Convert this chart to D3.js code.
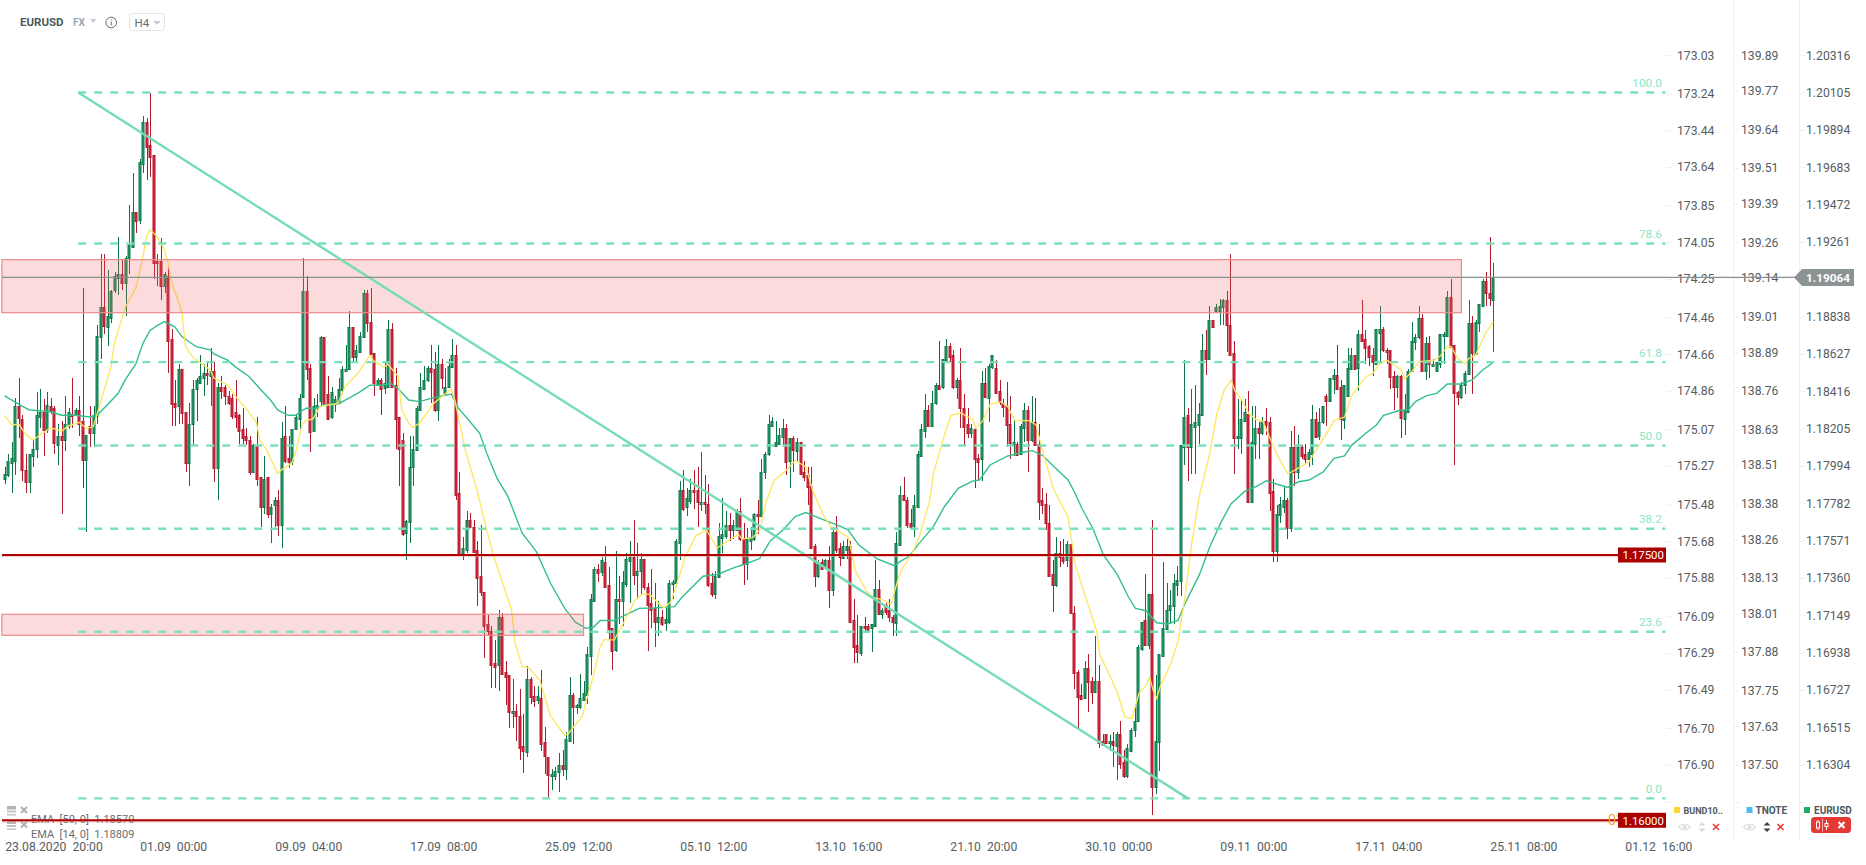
<!DOCTYPE html>
<html><head><meta charset="utf-8">
<script src="https://cdnjs.cloudflare.com/ajax/libs/d3/7.8.5/d3.min.js"></script>
<style>html,body{margin:0;padding:0;background:#fff;overflow:hidden}svg{display:block;font-family:Roboto,sans-serif}</style>
</head><body><svg id="c" width="1866" height="865"></svg>
<script>
// All candle values are in pips above 1.16000
const candleOpen=[
193,195,202,203,234,227,198,191,206,210,228,231,221,234,233,212,217,215,223,230,
229,232,226,204,223,219,229,273,290,279,284,300,307,309,304,317,324,344,339,371,
395,382,376,316,316,302,308,272,236,234,255,231,202,224,244,247,250,253,251,254,
199,245,245,240,239,231,229,221,217,215,197,212,194,177,194,173,178,181,167,217,
205,203,221,227,239,299,256,220,234,237,273,241,228,235,236,243,254,255,279,262,
265,273,298,282,264,247,249,244,245,278,246,228,215,162,169,200,209,232,244,249,
256,255,232,258,241,245,256,263,185,150,153,170,166,153,138,129,111,107,89,88,
115,84,82,61,62,59,42,39,80,70,68,69,44,36,25,25,27,31,29,45,
71,64,64,68,71,93,124,142,140,146,133,109,96,125,124,134,147,149,139,141,
148,132,123,120,112,115,112,112,134,134,157,187,177,181,187,187,179,180,179,134,
128,138,160,161,167,164,164,175,159,145,158,159,173,172,197,207,223,212,213,217,
222,203,216,209,214,197,195,189,155,138,146,143,147,130,163,154,148,153,155,113,
99,95,110,110,109,110,131,117,122,119,115,112,156,184,181,168,166,177,206,220,
232,223,236,246,245,260,268,263,245,249,233,224,219,221,205,204,247,239,256,256,
243,236,234,224,213,213,207,222,232,215,225,213,181,179,168,139,133,151,149,147,
156,117,84,71,69,86,79,73,79,45,49,44,45,42,49,33,25,39,51,56,
97,113,99,128,19,44,93,108,119,121,133,135,211,229,211,222,224,229,266,261,
283,288,288,290,294,280,264,216,216,226,230,180,213,222,219,226,225,186,152,173,
177,181,165,211,197,211,207,204,207,227,217,225,240,237,250,252,245,226,240,255,
263,256,275,272,268,263,258,276,278,266,266,251,245,251,227,231,254,270,273,284,
254,270,257,254,258,274,274,296,269,242,239,246,252,281,264,281,291,305,298,294];
const candleHigh=[
200,207,214,239,250,229,207,207,215,242,244,238,242,239,234,224,226,240,233,250,
233,240,301,218,234,234,280,320,320,311,300,310,330,317,319,348,366,344,374,398,
397,411,376,320,329,310,314,278,249,258,255,231,236,249,250,263,258,259,267,259,
247,251,246,243,241,249,230,233,222,217,213,228,194,206,194,179,183,187,225,234,
217,221,230,241,318,308,258,239,241,274,273,251,245,240,250,257,269,288,279,269,
276,300,300,301,264,250,250,259,283,281,256,228,219,170,217,217,234,253,257,257,
269,265,269,261,256,261,272,269,197,160,175,174,170,158,167,129,116,110,102,119,
117,90,82,80,66,74,60,87,81,76,76,85,53,36,29,30,38,40,50,81,
72,66,83,79,98,128,143,145,149,155,143,109,152,138,141,151,158,170,157,151,
148,134,142,134,124,119,121,136,136,159,192,198,188,193,198,200,208,195,190,140,
141,168,182,175,174,170,176,182,168,165,166,174,181,204,208,229,228,226,222,227,
224,216,217,216,214,203,200,200,156,147,148,148,155,166,172,157,158,159,158,125,
116,110,115,111,111,147,136,120,123,125,116,163,189,194,183,176,184,209,224,241,
235,243,247,271,261,272,270,266,250,267,241,233,224,222,207,254,256,258,263,260,
249,238,248,240,227,214,224,236,234,240,239,224,188,185,178,147,160,158,159,158,
156,121,85,77,90,94,81,104,88,49,49,48,50,50,56,40,43,52,66,99,
112,139,128,170,82,94,146,134,130,139,144,212,260,233,244,246,236,275,277,291,
283,292,295,295,299,320,271,238,238,238,243,234,234,225,228,233,228,193,178,183,
189,182,220,223,218,212,213,210,235,231,233,234,241,250,255,269,249,246,267,267,
263,277,294,277,269,267,278,291,279,267,266,254,252,252,241,255,282,275,291,286,
273,274,261,259,275,276,299,306,269,243,248,254,294,285,283,292,306,310,330,315];
const candleLow=[
190,194,185,195,216,192,185,185,200,205,222,206,219,230,207,201,173,209,221,222,
229,217,188,163,211,211,224,261,275,268,281,298,297,300,285,309,324,332,337,366,
362,364,306,302,294,298,253,223,223,224,224,197,189,212,226,247,240,246,234,191,
181,238,235,235,227,222,213,213,212,195,197,189,166,173,171,157,166,161,154,202,
199,201,221,221,239,249,208,220,228,235,235,227,227,231,236,241,254,255,259,259,
265,273,276,263,240,247,229,241,245,245,210,189,161,147,157,189,209,232,244,248,
236,231,226,244,240,245,256,181,150,147,151,165,151,121,127,92,104,75,75,73,
83,65,52,52,45,34,27,36,66,64,66,39,26,13,17,23,16,25,23,45,
43,60,63,68,66,82,124,135,138,132,102,85,95,111,110,132,123,133,125,128,
130,96,109,98,104,110,107,111,125,132,147,175,172,179,176,166,175,173,132,126,
125,138,151,159,158,159,164,158,133,136,153,158,162,172,193,206,223,212,212,212,
195,188,197,203,195,192,178,154,132,137,142,142,120,127,151,144,148,148,112,89,
89,93,107,107,95,110,116,114,116,112,104,104,155,181,165,165,160,177,206,216,
223,223,235,244,244,260,259,244,238,222,212,216,216,188,192,192,239,225,255,242,
235,228,211,204,206,207,207,214,197,214,212,170,173,164,138,118,132,143,145,143,
117,74,51,69,69,61,66,72,41,42,44,39,30,23,29,24,24,39,47,56,
96,99,97,3,15,28,93,108,111,111,127,127,201,192,196,196,213,229,252,260,
279,287,280,280,265,263,196,210,207,225,180,180,204,204,218,218,175,146,146,168,
174,159,163,189,193,204,202,200,201,216,215,224,223,237,241,244,215,221,240,255,
255,243,271,258,257,251,258,258,265,258,244,232,239,216,218,231,254,266,272,254,
249,250,257,254,256,258,274,268,201,235,238,241,252,241,264,276,291,291,291,265];
const candleClose=[
196,203,205,234,227,198,191,207,210,229,231,221,235,232,213,217,215,224,231,229,
232,224,204,218,219,229,274,290,279,285,299,308,309,304,318,325,344,339,372,395,
381,375,315,315,302,309,271,235,234,255,230,202,224,244,249,251,253,252,254,199,
245,243,240,236,229,228,220,216,215,197,212,193,177,193,173,177,181,167,216,203,
203,221,228,239,299,255,220,234,235,273,235,227,242,238,244,255,255,279,262,266,
274,298,281,264,247,249,244,247,278,245,227,210,162,169,200,210,233,245,249,256,
254,232,258,250,245,257,263,184,151,154,170,166,152,137,129,110,107,88,87,115,
83,81,61,62,59,41,39,80,70,67,70,43,36,26,26,28,31,29,46,71,
64,65,69,72,94,125,142,140,147,132,108,96,125,124,135,148,149,139,141,148,
132,122,119,112,115,111,114,134,135,158,187,176,182,187,186,180,180,179,133,128,
138,161,162,167,164,167,175,159,145,159,160,173,172,197,207,224,226,214,218,222,
203,216,209,214,196,194,188,154,138,145,142,147,130,163,153,149,155,155,112,98,
95,110,109,108,111,131,117,119,118,115,112,157,184,181,167,166,178,207,221,232,
223,236,246,244,261,268,262,245,249,233,222,219,222,204,203,247,239,257,263,242,
237,234,223,213,214,207,223,232,215,225,212,180,178,168,138,133,151,149,147,156,
117,83,70,69,86,78,73,79,44,43,44,45,43,49,32,25,41,51,56,98,
112,99,128,19,45,94,109,119,122,134,136,212,228,211,224,225,230,266,261,283,
279,290,291,294,280,263,216,217,227,231,180,214,222,219,226,224,185,152,173,179,
181,165,211,197,211,206,204,208,227,217,225,234,237,250,252,244,227,246,256,263,
255,275,271,267,262,259,278,278,266,265,251,245,251,227,232,254,271,273,284,254,
270,258,258,259,275,275,296,268,242,239,246,253,281,264,282,292,305,298,295,307];

// EMA 14, sampled along the curve: sample position and pips above 1.16000
const ema14At=[0,2,4,6,8,10,13,16,18,21,23,25,27,30,31,34,37,39,40,41,43,45,46,47,50,51,53,55,58,59,63,65,68,71,72,74,77,78,81,82,84,85,87,89,94,96,100,103,104,107,108,111,112,114,115,117,121,126,127,130,133,136,138,140,143,144,146,148,151,154,158,159,163,164,166,168,169,172,175,178,180,182,184,186,188,190,192,195,198,201,203,207,208,211,213,215,217,220,221,223,226,228,231,233,235,238,239,240,243,245,248,250,252,253,256,258,261,262,265,267,270,271,273,274,276,278,281,283,285,289,291,293,296,300,302,304,308,309,312,314,316,318,320,322,323,324,325,326,329,331,333,335,337,340,342,344,346,347,349,351,353,355,356,359,362,364,368,370,373,375,378,380,384,386,388,390,392,394,395,397,399,403,405,407,408,410,412,413,415,418,420];
const ema14Pips=[229,223.5,224,218,215,218,222,220,223,225,221.6,222.5,236,256.5,270,290,301,318.7,330,334,330,323,316,305,287,268,262,259,254.6,250,246,240,233,225,215,209,196,198,202,207.5,224.4,226,227,234,235.7,245,253.7,263,260,256,258,251,232,224.4,222,224.4,235.7,244,237.6,209,188.6,164,149,137,119,100,87,86,79,59,48,49,59,67,81,98,102,102,113,125,128,127.7,123.6,120,123.6,136,149,161,164,154,156.6,161.7,159,159.8,164,181,192,197,199,203.4,200,186,172.6,166,163.8,160,151,141,130,126,124.5,122,136,141.5,151,160,181,196,217,229,230.4,228.6,227,221.6,226,235,236.7,233.8,226,226,223.5,207.5,186.7,171.6,145,132,107.5,93.4,81,71.7,58.5,57.6,71.7,76.4,80.8,73.6,69,75.5,88.7,101,126.4,158,183,207.5,230,243,249,243,237.6,230,226.7,225.4,220.7,206.5,195.8,198,202.7,209.3,218.8,226,228,240,250.8,252.7,258.4,260,257.4,254.6,249.5,253.7,259.3,260,262.5,267.8,267.8,261,258,261,263,276.3,282];

// EMA 50, same form
const ema50At=[0,2,5,7,10,13,16,20,24,26,29,32,34,37,39,41,43,45,48,50,52,54,58,59,63,65,69,72,75,77,80,82,85,88,90,94,97,100,103,106,109,111,114,117,121,126,128,131,134,136,139,142,144,146,150,154,158,161,164,166,168,172,175,179,183,189,191,197,201,206,209,213,216,220,223,226,230,236,238,241,246,251,253,255,258,262,265,269,273,275,278,283,288,290,293,296,300,302,304,307,310,314,317,319,322,325,328,331,333,337,340,343,346,350,353,356,359,362,365,368,372,375,378,380,384,387,389,394,396,398,401,404,407,411,414,417,420];
const ema50Pips=[240,237.6,234,232,231.6,231,229,229,228,229,235,241.4,249,258,269.7,277,279.7,282,279,273.5,270.6,267.8,266,263.7,260,256.5,250.8,244,237.6,232,229,229,233,233,235,235.4,238.6,242,246,246,247,244,237.6,236.7,239,241,233,226,218.8,207.5,193,183,172.6,162.3,151.9,134,119.8,112,108.5,109,113,113,116,119.8,120,120.8,126,138,139,143,144.9,148,158,165,171.7,174,170.7,166,164,155.6,148,144,146.8,149,156.6,166,177,187.7,191.8,192.4,200.9,206,208.4,209,206,200,192.4,184.8,176,165,150,138.6,126.4,119.8,118.5,111.7,111,113,122.6,138.6,154.7,167.9,179,186.2,188.6,192,190,188.2,191.4,192.4,197,204.6,206,212,218.8,223.5,229,232,232,236.7,240,241.4,246.7,246.7,249,254.6,259];

const fibHigh=1.20115, fibLow=1.16124;
const fibLevels=[100.0,78.6,61.8,50.0,38.2,23.6,0.0];
const supportLevels=[1.175,1.16];
const lastPrice=1.19064;
// zones: first bar, last bar, top price, bottom price
const zoneBars=[[-0.8,410],[-0.8,162.9]];
const zonePrices=[[1.1917,1.1887],[1.17165,1.17046]];
const trendBars=[20.7,333];
const fibRightBar=467.4;

const pricesYen=[173.03,173.24,173.44,173.64,173.85,174.05,174.25,174.46,174.66,174.86,175.07,175.27,175.48,175.68,175.88,176.09,176.29,176.49,176.70,176.90];
const pricesTnote=[139.89,139.77,139.64,139.51,139.39,139.26,139.14,139.01,138.89,138.76,138.63,138.51,138.38,138.26,138.13,138.01,137.88,137.75,137.63,137.50];
const pricesEur=[1.20316,1.20105,1.19894,1.19683,1.19472,1.19261,1.18838,1.18627,1.18416,1.18205,1.17994,1.17782,1.17571,1.17360,1.17149,1.16938,1.16727,1.16515,1.16304];
const timeTickBars=[0,38,76,114,152,190,228,266,304,342,380,418,456];
const timeTickLabels=["23.08.2020  20:00","01.09  00:00","09.09  04:00","17.09  08:00","25.09  12:00","05.10  12:00","13.10  16:00","21.10  20:00","30.10  00:00","09.11  00:00","17.11  04:00","25.11  08:00","01.12  16:00"];

const svg=d3.select("#c");
const pip=p=>1.16+p/1e4;
const x=d3.scaleLinear().domain([0,419]).range([4.7,1493.4]);
const emaX=d3.scaleLinear().domain([0,420]).range([4.7,1493.4]);
const y=d3.scaleLinear().domain([1.16,1.175]).range([820.3,555]);
const snap=v=>Math.round(v);

const GREEN_B="#0d7548",GREEN_F="#23a26b",RED_B="#b01c2e",RED_F="#e6213a";
const candles=candleOpen.map((o,i)=>({i,o:pip(o),h:pip(candleHigh[i]),l:pip(candleLow[i]),c:pip(candleClose[i])}));
const g=svg.append("g");
const cs=g.selectAll("g").data(candles).join("g");
cs.append("rect").attr("x",d=>snap(x(d.i))-0.5).attr("width",1)
  .attr("y",d=>y(d.h)).attr("height",d=>Math.max(1,y(d.l)-y(d.h)))
  .attr("fill",d=>d.c>=d.o?GREEN_B:RED_B).attr("shape-rendering","crispEdges");
cs.append("rect").attr("x",d=>snap(x(d.i))-1).attr("width",2)
  .attr("y",d=>Math.round(y(Math.max(d.o,d.c)))+0.5)
  .attr("height",d=>Math.max(1,Math.round(y(Math.min(d.o,d.c))-y(Math.max(d.o,d.c)))))
  .attr("fill",d=>d.c>=d.o?GREEN_F:RED_F).attr("stroke",d=>d.c>=d.o?GREEN_B:RED_B).attr("stroke-width",1);

const emaLine=d3.line().x(d=>emaX(d[0])).y(d=>y(pip(d[1])));
svg.append("path").attr("d",emaLine(ema50At.map((a,i)=>[a,ema50Pips[i]]))).attr("fill","none").attr("stroke","#33c08d").attr("stroke-width",1.4);
svg.append("path").attr("d",emaLine(ema14At.map((a,i)=>[a,ema14Pips[i]]))).attr("fill","none").attr("stroke","#fde75c").attr("stroke-width",1.3);

// supply/demand zones
zoneBars.forEach((b,i)=>{
  const x0=x(b[0]),x1=x(b[1]),y0=y(zonePrices[i][0]),y1=y(zonePrices[i][1]);
  svg.append("rect").attr("x",x0).attr("y",y0).attr("width",x1-x0).attr("height",y1-y0)
   .attr("fill","rgb(238,100,100)").attr("fill-opacity",.23).attr("stroke","#f08a8a").attr("stroke-width",1.2);
});

// fibonacci
const fibPrice=l=>fibLow+(fibHigh-fibLow)*l/100;
fibLevels.forEach(l=>{
  const yy=y(fibPrice(l));
  svg.append("line").attr("x1",x(trendBars[0])).attr("x2",x(fibRightBar)).attr("y1",yy).attr("y2",yy)
    .attr("stroke","#72e0b8").attr("stroke-opacity",.95).attr("stroke-width",2.4).attr("stroke-dasharray","8 8");
  svg.append("text").attr("x",1662).attr("y",yy-5.5).attr("text-anchor","end").attr("font-size",11.8).attr("fill","#8fe4c4").text(l.toFixed(1));
});
svg.append("line").attr("x1",x(trendBars[0])).attr("y1",y(fibHigh)).attr("x2",x(trendBars[1])).attr("y2",y(fibLow))
  .attr("stroke","#74dcb5").attr("stroke-width",2.4);

// bottom-left indicator legend
const legend=[["EMA  [50, 0]  1.18570",819],["EMA  [14, 0]  1.18809",833.5]];
legend.forEach(([t,yy],i)=>{
  const ly=yy-10;
  svg.append("rect").attr("x",7).attr("y",ly-3).attr("width",9).attr("height",3.5).attr("fill","#b5b5b5");
  svg.append("rect").attr("x",7).attr("y",ly+1.5).attr("width",9).attr("height",2).attr("fill","#c4c4c4");
  svg.append("rect").attr("x",7).attr("y",ly+5).attr("width",9).attr("height",1.5).attr("fill","#c4c4c4");
  svg.append("path").attr("d",`M21 ${ly-2}L27 ${ly+4}M27 ${ly-2}L21 ${ly+4}`).attr("stroke","#b0b0b0").attr("stroke-width",2);
  svg.append("text").attr("x",31).attr("y",yy+4).attr("font-size",11).attr("fill","#6a6f73").style("white-space","pre").text(t);
});

// horizontal levels
supportLevels.forEach(v=>{
  const yy=y(v);
  svg.append("line").attr("x1",2).attr("x2",1618).attr("y1",yy+0.8).attr("y2",yy+0.8).attr("stroke","#e8a0a0").attr("stroke-width",2.6).attr("stroke-opacity",.55);
  svg.append("line").attr("x1",2).attr("x2",1618).attr("y1",yy).attr("y2",yy).attr("stroke","#b00000").attr("stroke-width",2);
});
svg.append("text").attr("x",1608).attr("y",y(1.16)+5).attr("font-size",14).attr("fill","#f5a623").text("01");

// right axes
const rowY=v=>y(v)-1.7;
const rowTop=rowY(1.20316),rowBot=rowY(1.16304);
const cols=[
 {vals:pricesYen,dom:[173.03,176.90],x:1666,fmt:2},
 {vals:pricesTnote,dom:[139.89,137.50],x:1733,fmt:2},
 {vals:pricesEur,dom:[1.20316,1.16304],x:1799,fmt:5}];
cols.forEach(c=>{
  const s=d3.scaleLinear().domain(c.dom).range([rowTop,rowBot]);
  const ax=d3.axisRight(s).tickValues(c.vals).tickFormat(d=>d.toFixed(c.fmt)).tickSize(6).tickPadding(c.fmt==5?1:c.x==1733?2:5);
  const ag=svg.append("g").attr("transform",`translate(${c.x},0)`).call(ax);
  ag.select(".domain").remove();
  ag.selectAll("line").attr("stroke","#eceeef");
  ag.selectAll("text").attr("fill","#565d62").attr("font-size",12.2).attr("font-family","Roboto");
});
[1733,1799].forEach(v=>svg.append("line").attr("x1",v+.5).attr("x2",v+.5).attr("y1",0).attr("y2",840).attr("stroke","#eff1f2"));
[1666,1733,1799].forEach(v=>svg.append("line").attr("x1",v).attr("x2",v+6).attr("y1",802.5).attr("y2",802.5).attr("stroke","#eceeef"));

// last-price line and tag
const ly=y(lastPrice)-1;
svg.append("line").attr("x1",2).attr("x2",1796).attr("y1",ly).attr("y2",ly).attr("stroke","#8a9092").attr("stroke-width",1.1);
svg.append("path").attr("d",`M1794 ${ly}L1802 ${ly-8.5}H1854V${ly+8.5}H1802Z`).attr("fill","#8b9395");
svg.append("text").attr("x",1806).attr("y",ly+4.5).attr("font-size",11.8).attr("font-weight",700).attr("fill","#fff").text(lastPrice.toFixed(5));

// level tags
supportLevels.forEach(v=>{
  const yy=y(v);
  svg.append("rect").attr("x",1618).attr("y",yy-7.5).attr("width",48).attr("height",15).attr("fill","#aa0000");
  svg.append("text").attr("x",1622.5).attr("y",yy+4.2).attr("font-size",11.4).attr("fill","#fff").text(v.toFixed(5));
});

// time axis
const xa=d3.axisBottom(x).tickValues(timeTickBars).tickFormat((d,i)=>timeTickLabels[i]).tickSize(4).tickPadding(0);
const xg=svg.append("g").attr("transform","translate(0,839)").call(xa);
xg.select(".domain").remove();
xg.selectAll("line").attr("stroke","#e6e8ea");
xg.selectAll("text").attr("text-anchor","start").attr("fill","#565d62").attr("font-size",12.2).attr("font-family","Roboto").style("white-space","pre").attr("y",3).attr("dy","0.71em");

// header
const txt=(t,xx,yy,fs,fill,w)=>svg.append("text").attr("x",xx).attr("y",yy).attr("font-size",fs).attr("fill",fill).attr("font-weight",w||400).text(t);
txt("EURUSD",20,26,11.5,"#4b5860",700);
txt("FX",73,26,10,"#9aa7b0",700);
svg.append("path").attr("d","M90 19H96.5L93.2 23Z").attr("fill","#c9cdd0");
svg.append("circle").attr("cx",111.2).attr("cy",22.5).attr("r",5.3).attr("fill","none").attr("stroke","#5f6c74").attr("stroke-width",1);
svg.append("path").attr("d","M111.2 21.5V25.5M111.2 19.3V20.3").attr("stroke","#5f6c74").attr("stroke-width",1);
svg.append("rect").attr("x",129.5).attr("y",13.5).attr("width",35).attr("height",17).attr("rx",2.5).attr("fill","#fff").attr("stroke","#e4e7e9");
txt("H4",134.5,26.5,11.5,"#5e6b73",400);
svg.append("path").attr("d","M153 21H161L157 25Z").attr("fill","#c9cdd0");

// series legend bottom right
const eye=(cx,cy,c)=>{svg.append("path").attr("d",`M${cx-6} ${cy}Q${cx} ${cy-6} ${cx+6} ${cy}Q${cx} ${cy+6} ${cx-6} ${cy}Z`).attr("fill","none").attr("stroke",c).attr("stroke-width",1.1);
  svg.append("circle").attr("cx",cx).attr("cy",cy).attr("r",2).attr("fill",c);};
const arrows=(cx,cy,c)=>{svg.append("path").attr("d",`M${cx-3.5} ${cy-1.5}L${cx} ${cy-5}L${cx+3.5} ${cy-1.5}ZM${cx-3.5} ${cy+1.5}L${cx} ${cy+5}L${cx+3.5} ${cy+1.5}Z`).attr("fill",c);};
const cross=(cx,cy,c,w)=>svg.append("path").attr("d",`M${cx-3} ${cy-3}L${cx+3} ${cy+3}M${cx+3} ${cy-3}L${cx-3} ${cy+3}`).attr("stroke",c).attr("stroke-width",w||1.6);
const series=[["BUND10..",1674,"#fcd535",1683.5,9],["TNOTE",1746.5,"#4fb9f0",1755.5,10],["EURUSD",1804,"#22aa6c",1814,10]];
series.forEach(([n,xx,c,tx,fs])=>{
  svg.append("rect").attr("x",xx).attr("y",807).attr("width",6).attr("height",6).attr("fill",c);
  svg.append("text").attr("x",tx).attr("y",814).attr("font-size",fs).attr("font-weight",700).attr("fill","#4b5860").text(n);
});
eye(1684.5,827,"#d8dee2");arrows(1702,827,"#d5d9dc");cross(1716,827,"#ee3a3a");
eye(1749.5,827,"#d8dee2");arrows(1767,827,"#37424a");cross(1780.5,827,"#ee3a3a");
svg.append("rect").attr("x",1811).attr("y",817).attr("width",40).attr("height",16).attr("rx",3.5).attr("fill","#e53935");
svg.append("path").attr("d","M1818 820V830M1826.5 820V830").attr("stroke","#fff").attr("stroke-width",1);
svg.append("rect").attr("x",1816.5).attr("y",822).attr("width",3).attr("height",6).attr("fill","#e53935").attr("stroke","#fff");
svg.append("rect").attr("x",1825).attr("y",823.5).attr("width",3).attr("height",3).attr("fill","#e53935").attr("stroke","#fff");
svg.append("path").attr("d","M1822.5 818.5V831.5").attr("stroke","#f3b0ae").attr("stroke-width",1);
cross(1841.5,825,"#fff",2);
</script></body></html>
